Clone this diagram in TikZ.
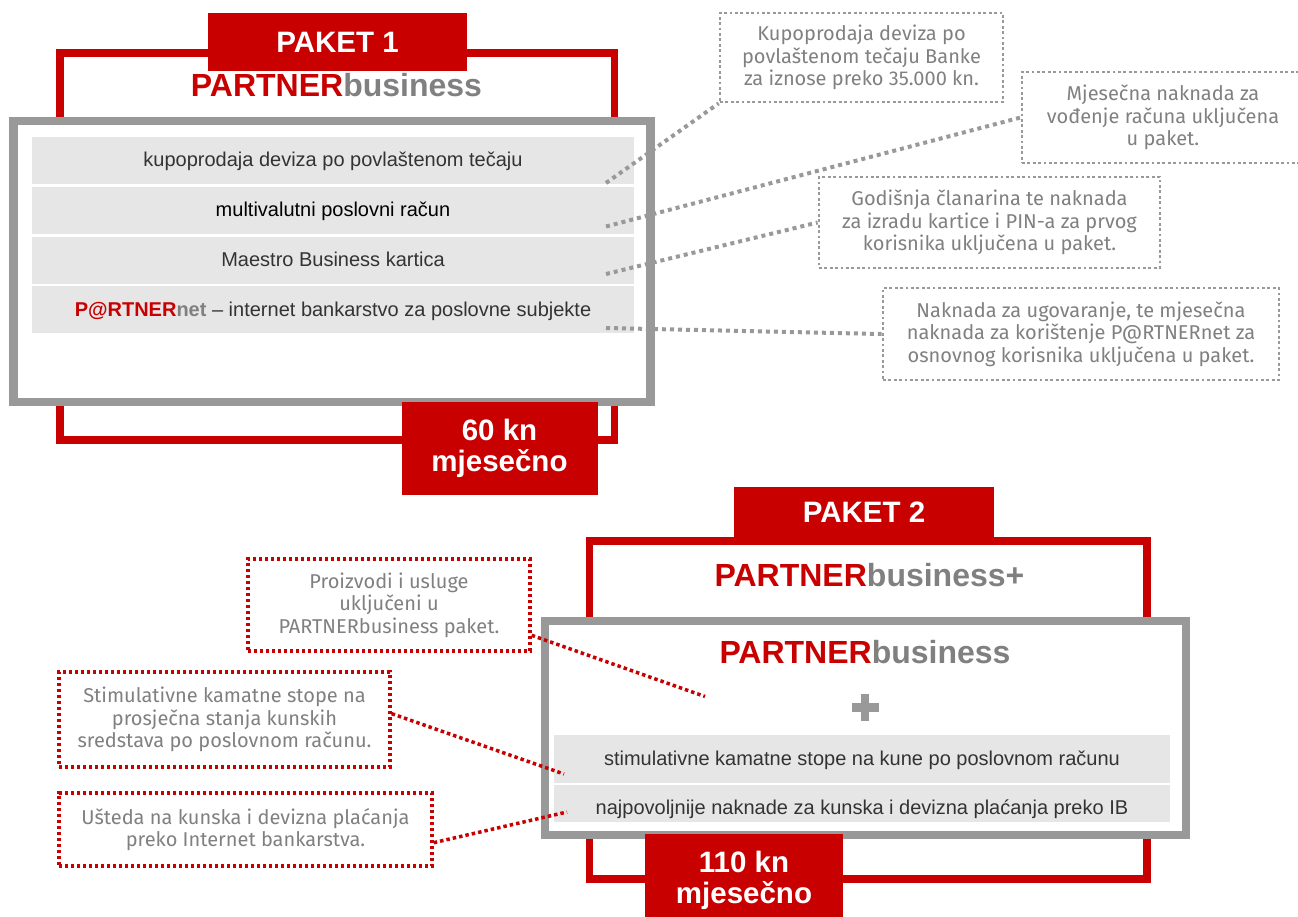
\documentclass[tikz,border=0pt]{standalone}
\definecolor{BankRed}{RGB}{200, 0, 0}
\definecolor{FrameGray}{RGB}{153, 153, 153}
\definecolor{RowGray}{RGB}{230, 230, 230}
\definecolor{NoteGray}{RGB}{128, 128, 128}
\definecolor{RowText}{RGB}{51, 51, 51}
\usepackage{fontspec}
\setmainfont{Liberation Sans}
\newfontfamily\notefont{Fira Sans}
\usepackage{tikz}
\usetikzlibrary{arrows.meta, positioning, shapes, calc}

\begin{document}
\begin{tikzpicture}[x=1pt, y=-1pt]
        \tikzstyle{redframe} = [rectangle, draw=BankRed, line width=7.5pt, inner sep=0pt]
        \tikzstyle{grayframe} = [rectangle, draw=FrameGray, fill=white, line width=8.5pt, inner sep=0pt]
        \tikzstyle{tab} = [rectangle, fill=BankRed, text=white, align=center, inner sep=0pt, font=\bfseries\fontsize{29.5}{31}\selectfont]
        \tikzstyle{brand} = [anchor=base, inner sep=0pt, text=BankRed, font=\bfseries\fontsize{32}{36}\selectfont]
        \tikzstyle{row} = [rectangle, fill=RowGray, inner sep=0pt, text=RowText, text height=14pt, text depth=2pt, font=\fontsize{20}{24}\selectfont]
        \tikzstyle{graynote} = [rectangle, draw=FrameGray, line width=2.8pt, dash pattern=on 2.8pt off 2.6pt, text=NoteGray, align=center, inner sep=0pt, font=\notefont\fontsize{20}{22.5}\selectfont]
        \tikzstyle{rednote} = [graynote, draw=BankRed, line width=3.4pt, dash pattern=on 3.4pt off 2.6pt]
        \tikzstyle{grayline} = [draw=FrameGray, line width=4pt, dash pattern=on 4pt off 4pt]
        \tikzstyle{redline} = [draw=BankRed, line width=3.5pt, dash pattern=on 3.5pt off 3pt]

        \useasboundingbox (0,0) rectangle (1298,916);

        % Paket 1
        \node (frame1) [redframe, minimum width=554.5, minimum height=387] at (337.25,246.5) {};
        \node (paket1) [tab, minimum width=259, minimum height=58] at (337.5,42) {PAKET 1};
        \node (title1) [brand] at (336.5,96.5) {PARTNER\textcolor{NoteGray}{business}};
        \node (box1) [grayframe, minimum width=637, minimum height=281] at (332,261.5) {};
        \node (kupo) [row, minimum width=602, minimum height=47] at (333,160.5) {kupoprodaja deviza po povlaštenom tečaju};
        \node (multi) [row, text=black, minimum width=602, minimum height=47] at (333,210.5) {multivalutni poslovni račun};
        \node (maestro) [row, minimum width=602, minimum height=47] at (333,260.5) {Maestro Business kartica};
        \node (pnet) [row, text depth=0pt, minimum width=602, minimum height=47] at (333,309.5) {\textcolor{BankRed}{\bfseries P@RTNER}\textcolor{NoteGray}{\bfseries net} – internet bankarstvo za poslovne subjekte};
        \node (price1) [tab, minimum width=196, minimum height=93] at (499.5,448.5) {60 kn\\mjesečno};

        % Notes for paket 1
        \node (note1) [graynote, minimum width=283, minimum height=89] at (861.5,57.5) {Kupoprodaja deviza po\\povlaštenom tečaju Banke\\za iznose preko 35.000 kn.};
        \node (note2) [graynote, minimum width=282, minimum height=91] at (1163,117.5) {Mjesečna naknada za\\vođenje računa uključena\\u paket.};
        \node (note3) [graynote, minimum width=341, minimum height=91] at (989.5,222.5) {Godišnja članarina te naknada\\za izradu kartice i PIN-a za prvog\\korisnika uključena u paket.};
        \node (note4) [graynote, minimum width=396, minimum height=92] at (1081,334) {Naknada za ugovaranje, te mjesečna\\naknada za korištenje P@RTNERnet za\\osnovnog korisnika uključena u paket.};

        \coordinate (pin1) at (606,183);
        \coordinate (pin2) at (606,226.5);
        \coordinate (pin3) at (606,274);
        \coordinate (pin4) at (606,328);

        \draw [grayline] (pin1) -- (note1.south west);
        \draw [grayline] (pin2) -- (note2.west);
        \draw [grayline] (pin3) -- (note3.west);
        \draw [grayline] (pin4) -- (note4.west);

        % Paket 2
        \node (frame2) [redframe, minimum width=557.5, minimum height=338] at (868,710) {};
        \node (paket2) [tab, minimum width=260, minimum height=50] at (864,512) {PAKET 2};
        \node (title2) [brand] at (869.5,586) {PARTNER\textcolor{NoteGray}{business+}};
        \node (box2) [grayframe, minimum width=641, minimum height=214] at (865.5,728) {};
        \node (title3) [brand] at (865,663) {PARTNER\textcolor{NoteGray}{business}};
        \draw [FrameGray, line width=8.5pt] (851.5,707.5) -- (878.5,707.5) (865,694) -- (865,721);
        \node (kamate) [row, minimum width=616, minimum height=48] at (862,759) {stimulativne kamatne stope na kune po poslovnom računu};
        \node (naknade) [row, text height=23pt, minimum width=616, minimum height=37] at (862,803.5) {najpovoljnije naknade za kunska i devizna plaćanja preko IB};
        \node (price2) [tab, minimum width=197.5, minimum height=93] at (744,880.5) {110 kn\\mjesečno};

        % Notes for paket 2
        \node (note5) [rednote, minimum width=282, minimum height=92] at (389,605) {Proizvodi i usluge\\uključeni u\\PARTNERbusiness paket.};
        \node (note6) [rednote, minimum width=331, minimum height=95] at (224.5,719.5) {Stimulativne kamatne stope na\\prosječna stanja kunskih\\sredstava po poslovnom računu.};
        \node (note7) [rednote, minimum width=373, minimum height=73] at (245.5,829.5) {Ušteda na kunska i devizna plaćanja\\preko Internet bankarstva.};

        \coordinate (mark1) at (705,696.5);
        \coordinate (mark2) at (564,774);
        \coordinate (mark3) at (567,812);

        \draw [redline] (note5.-12) -- (mark1);
        \draw [redline] (note6.2) -- (mark2);
        \draw [redline] (note7.-4) -- (mark3);
    \end{tikzpicture}
\end{document}
